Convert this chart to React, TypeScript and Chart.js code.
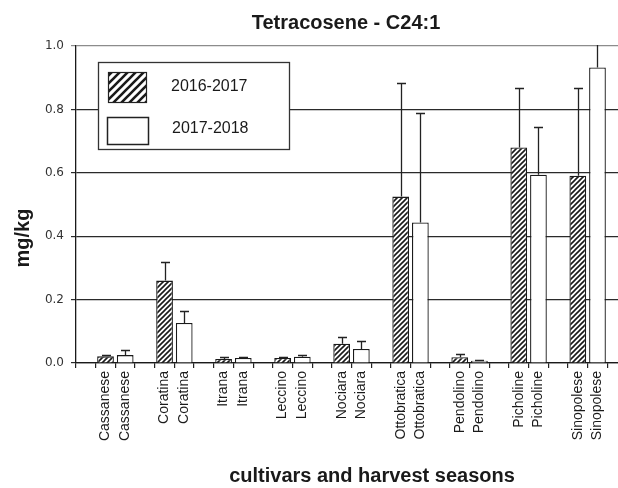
import React, { useEffect, useRef } from "react";
import { Chart, registerables } from "chart.js";

Chart.register(...registerables);

const chartTitle = "Tetracosene - C24:1";
const yAxisTitle = "mg/kg";
const xAxisTitle = "cultivars and harvest seasons";
const seriesNames = ["2016-2017", "2017-2018"];

const cultivars = [
  "Cassanese",
  "Coratina",
  "Itrana",
  "Leccino",
  "Nociara",
  "Ottobratica",
  "Pendolino",
  "Picholine",
  "Sinopolese",
];

const means1617 = [0.021, 0.26, 0.013, 0.016, 0.061, 0.525, 0.018, 0.68, 0.591];
const errors1617 = [0.003, 0.06, 0.007, 0.004, 0.02, 0.357, 0.01, 0.186, 0.275];
const means1718 = [0.025, 0.126, 0.016, 0.02, 0.044, 0.443, 0.007, 0.594, 0.932];
const errors1718 = [0.015, 0.037, 0.002, 0.004, 0.024, 0.347, 0.003, 0.151, 0.17];

const yTicks = [0, 0.2, 0.4, 0.6, 0.8, 1.0];

// slot layout: gap, season 1, season 2 for each cultivar, then a trailing gap
const slotLabels: string[] = [];
const slots1617: (number | null)[] = [];
const slots1718: (number | null)[] = [];
const slotErr1617: (number | null)[] = [];
const slotErr1718: (number | null)[] = [];
cultivars.forEach((c, i) => {
  slotLabels.push("", c, c);
  slots1617.push(null, means1617[i], null);
  slots1718.push(null, null, means1718[i]);
  slotErr1617.push(null, errors1617[i], null);
  slotErr1718.push(null, null, errors1718[i]);
});
slotLabels.push("");
slots1617.push(null);
slots1718.push(null);
slotErr1617.push(null);
slotErr1718.push(null);

function makeHatch(ctx: CanvasRenderingContext2D, size: number, lw: number) {
  const c = document.createElement("canvas");
  c.width = size;
  c.height = size;
  const g = c.getContext("2d")!;
  g.fillStyle = "#ffffff";
  g.fillRect(0, 0, size, size);
  g.strokeStyle = "#1a1a1a";
  g.lineWidth = lw;
  g.beginPath();
  g.moveTo(-1, size + 1);
  g.lineTo(size + 1, -1);
  g.moveTo(-size / 2, size / 2);
  g.lineTo(size / 2, -size / 2);
  g.moveTo(size / 2, size * 1.5);
  g.lineTo(size * 1.5, size / 2);
  g.stroke();
  return ctx.createPattern(c, "repeat")!;
}

export default function App() {
  const ref = useRef<HTMLCanvasElement | null>(null);

  useEffect(() => {
    const canvas = ref.current!;
    const ctx = canvas.getContext("2d")!;
    const barHatch = makeHatch(ctx, 5, 1.6);
    const legendHatch = makeHatch(ctx, 8, 2.6);

    const errorBars = {
      id: "errorBars",
      afterDatasetsDraw(chart: any) {
        const c = chart.ctx;
        const area = chart.chartArea;
        const y = chart.scales.y;
        c.save();
        c.beginPath();
        c.rect(area.left, area.top - 1, area.right - area.left, area.bottom - area.top + 1);
        c.clip();
        c.strokeStyle = "#222";
        c.lineWidth = 1.3;
        chart.data.datasets.forEach((ds: any, di: number) => {
          const meta = chart.getDatasetMeta(di);
          meta.data.forEach((bar: any, i: number) => {
            const v = ds.data[i];
            const e = ds.errors[i];
            if (v == null || e == null) return;
            const x = Math.round(bar.x) + 0.5;
            const y0 = y.getPixelForValue(v);
            const y1 = Math.round(y.getPixelForValue(v + e)) + 0.5;
            c.beginPath();
            c.moveTo(x, y0);
            c.lineTo(x, y1);
            c.moveTo(x - 4.5, y1);
            c.lineTo(x + 4.5, y1);
            c.stroke();
          });
        });
        c.restore();
      },
    };

    const decorations = {
      id: "decorations",
      afterDraw(chart: any) {
        const c = chart.ctx;
        c.save();
        c.fillStyle = "#1a1a1a";
        c.textBaseline = "middle";
        c.textAlign = "center";
        c.font = "bold 20px 'Liberation Sans', Arial, sans-serif";
        c.fillText(chartTitle, 346, 23);
        c.fillText(xAxisTitle, 372, 476);
        c.save();
        c.translate(23, 238);
        c.rotate(-Math.PI / 2);
        c.fillText(yAxisTitle, 0, 0);
        c.restore();

        // legend
        c.fillStyle = "#ffffff";
        c.fillRect(98.5, 62.5, 191, 87);
        c.strokeStyle = "#333";
        c.lineWidth = 1.3;
        c.strokeRect(98.5, 62.5, 191, 87);
        c.fillStyle = legendHatch;
        c.fillRect(108.5, 72.5, 38, 30);
        c.strokeStyle = "#222";
        c.lineWidth = 1.2;
        c.strokeRect(108.5, 72.5, 38, 30);
        c.fillStyle = "#ffffff";
        c.fillRect(107.5, 117.5, 41, 27);
        c.lineWidth = 1.5;
        c.strokeRect(107.5, 117.5, 41, 27);
        c.fillStyle = "#1a1a1a";
        c.textAlign = "left";
        c.font = "16px 'Liberation Sans', Arial, sans-serif";
        c.fillText(seriesNames[0], 171, 87);
        c.fillText(seriesNames[1], 172, 129);
        c.restore();
      },
    };

    const chart = new Chart(canvas, {
      type: "bar",
      data: {
        labels: slotLabels,
        datasets: [
          {
            label: seriesNames[0],
            data: slots1617,
            errors: slotErr1617,
            backgroundColor: barHatch,
            borderColor: "#1a1a1a",
            borderWidth: 1.3,
          } as any,
          {
            label: seriesNames[1],
            data: slots1718,
            errors: slotErr1718,
            backgroundColor: "#ffffff",
            borderColor: "#1a1a1a",
            borderWidth: 1.3,
          } as any,
        ],
      },
      options: {
        responsive: false,
        devicePixelRatio: 1,
        animation: false,
        events: [],
        layout: { padding: { top: 46, right: 13, left: 0, bottom: 0 } },
        datasets: {
          bar: {
            grouped: false,
            categoryPercentage: 1,
            barPercentage: 0.85,
          },
        },
        plugins: {
          legend: { display: false },
          title: { display: false },
          tooltip: { enabled: false },
        },
        scales: {
          x: {
            type: "category",
            offset: true,
            afterFit(scale: any) {
              scale.height = 125;
            },
            grid: {
              offset: true,
              drawOnChartArea: false,
              drawTicks: true,
              tickLength: 5,
              color: "#222",
              lineWidth: 1.2,
            },
            border: { display: true, color: "#1a1a1a", width: 1.3 },
            ticks: {
              autoSkip: false,
              minRotation: 90,
              maxRotation: 90,
              padding: 3,
              color: "#1a1a1a",
              font: { family: "'Liberation Sans', Arial, sans-serif", size: 14 },
            },
          },
          y: {
            min: 0,
            max: 1,
            afterFit(scale: any) {
              scale.width = 76;
            },
            afterBuildTicks(scale: any) {
              scale.ticks = yTicks.map((v) => ({ value: v }));
            },
            grid: {
              drawTicks: true,
              tickLength: 5,
              color: (c: any) => (c.tick && c.tick.value === 1 ? "#8c8c8c" : "#2a2a2a"),
              lineWidth: 1.2,
            },
            border: { display: true, color: "#1a1a1a", width: 1.3 },
            ticks: {
              padding: 7,
              color: "#333",
              font: { family: "'DejaVu Sans', sans-serif", size: 12 },
              callback: (v: any) => Number(v).toFixed(1),
            },
          },
        },
      } as any,
      plugins: [errorBars, decorations],
    });

    return () => chart.destroy();
  }, []);

  return (
    <div
      style={{
        position: "fixed",
        left: 0,
        top: 0,
        width: 618,
        height: 488,
        overflow: "hidden",
        background: "#ffffff",
      }}
    >
      <canvas ref={ref} width={640} height={488} style={{ display: "block", width: 640, height: 488 }} />
    </div>
  );
}
